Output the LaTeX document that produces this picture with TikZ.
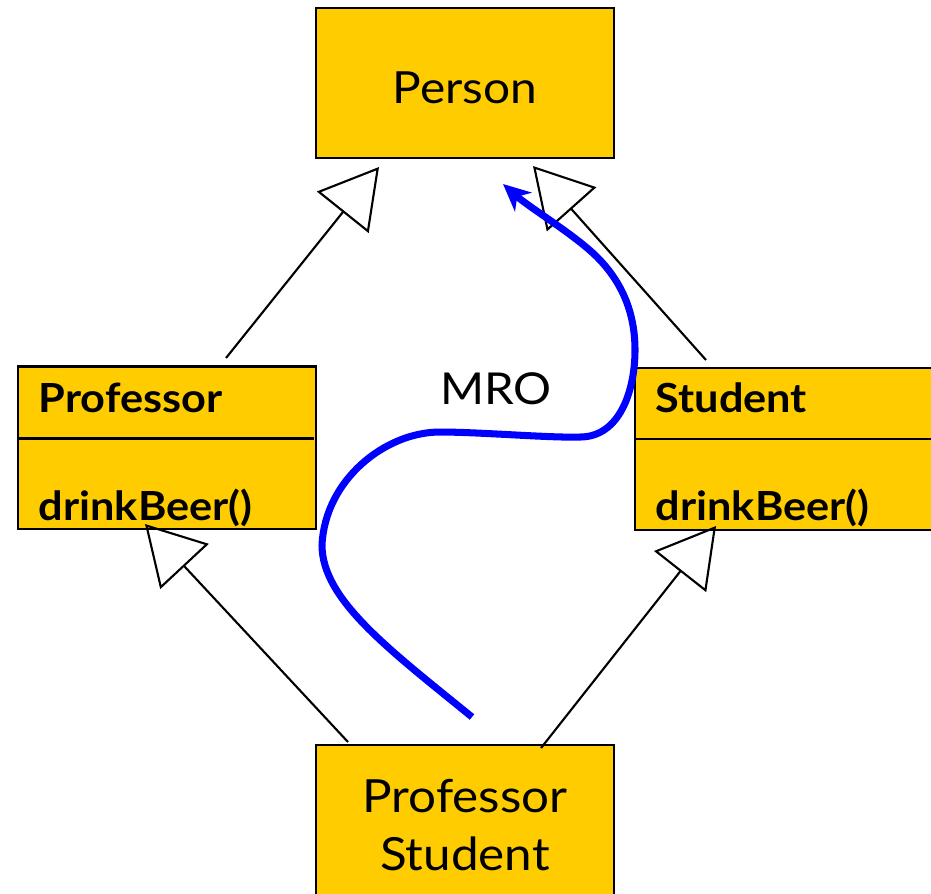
\documentclass[tikz,border=0pt]{standalone}
\usepackage{fontspec}
\setmainfont{Lato}[FakeStretch=1.08]
\usetikzlibrary{arrows.meta,positioning,calc}
\definecolor{umlgold}{HTML}{FFCC00}
\definecolor{mroblue}{HTML}{0000FF}
\tikzset{
  classbox/.style={rectangle, draw=black, fill=umlgold, semithick, minimum width=2.98cm, inner sep=0pt},
  headbox/.style={classbox, minimum height=1.5cm, align=center, font=\fontsize{12.6}{15}\selectfont},
  umlclass/.style={classbox, minimum height=1.62cm},
  member/.style={anchor=base west, inner sep=0pt, font=\fontsize{11.4}{14}\selectfont\bfseries},
  inherit/.style={-{Triangle[open, length=5.8mm, width=6.6mm]}, semithick},
  mro/.style={-{Stealth[length=2.7mm, width=2.5mm, inset=0.8mm]}, mroblue, line width=2pt}
}

\begin{document}
\begin{tikzpicture}[x=0.01cm, y=-0.01cm]
  \useasboundingbox (0,0) rectangle (931,893);
  \clip (0,0) rectangle (931,893);
  % classes
  \node[headbox, text height=0.4cm, text depth=0pt] (person) at (465,83) {Person};
  \node[umlclass] (prof) at (167,447.5) {};
  \node[umlclass] (stud) at (784,449) {};
  \node[headbox, minimum height=1.6cm, font=\fontsize{13}{16.5}\selectfont] (profstud) at (465,825) {Professor\\Student};
  \node[member] (profname) at (38,412) {Professor};
  \node[member] (profop) at (38,520) {drinkBeer()};
  \node[member] (studname) at (655,412) {Student};
  \node[member] (studop) at (655,520) {drinkBeer()};
  \draw[semithick] ([yshift=-0.73cm]prof.north west) -- ([xshift=-0.03cm, yshift=-0.73cm]prof.north east);
  \draw[semithick] ([yshift=-0.72cm]stud.north west) -- ([yshift=-0.72cm]stud.north east);
  % inheritance
  \coordinate (prof-up) at (226,358);
  \coordinate (stud-up) at (706,360);
  \coordinate (ps-left) at (348,742);
  \coordinate (ps-right) at (541,748);
  \coordinate (person-l) at (379,167);
  \coordinate (person-r) at (533,166);
  \coordinate (prof-down) at (145,524);
  \coordinate (stud-down) at (716,526);
  \draw[inherit] (prof-up) -- (person-l);
  \draw[inherit] (stud-up) -- (person-r);
  \draw[inherit] (ps-left) -- (prof-down);
  \draw[inherit] (ps-right) -- (stud-down);
  % method resolution order
  \node[font=\fontsize{12.5}{14}\selectfont] (mrolabel) at (496,389) {MRO};
  \coordinate (mro-start) at (472,717);
  \coordinate (mro-end) at (503,184);
  \draw[mro] (mro-start) .. controls (390,650) and (322,600) .. (322,545)
    .. controls (325,480) and (385,432) .. (440,432)
    .. controls (480,432) and (550,438) .. (580,437)
    .. controls (620,437) and (635,390) .. (635,350)
    .. controls (635,310) and (620,280) .. (597,257)
    .. controls (575,235) and (530,208) .. (mro-end);
\end{tikzpicture}
\end{document}
